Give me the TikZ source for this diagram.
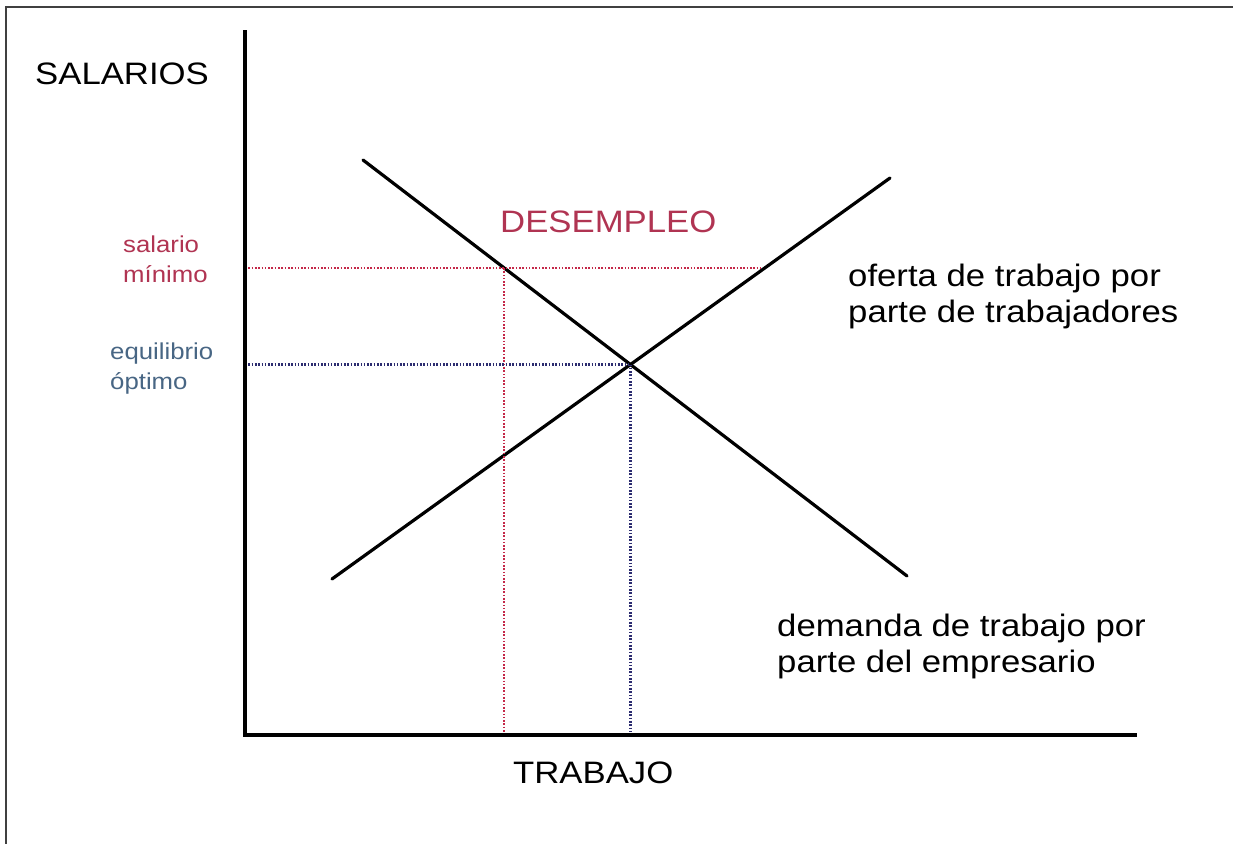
\documentclass[tikz,border=0pt]{standalone}
\usepackage{fontspec}
\setmainfont{Liberation Sans}[FakeStretch=1.12]
\usepackage{tikz}
\usetikzlibrary{positioning}
\usetikzlibrary{intersections}
\definecolor{minred}{RGB}{176,52,82}
\definecolor{eqblue}{RGB}{72,102,132}
\definecolor{dotred}{RGB}{196,40,72}
\definecolor{dotblue}{RGB}{44,44,112}
\tikzset{
    x=1pt, y=1pt,
    every node/.style={ % Sets the properties for each label
        inner sep=0pt,
        anchor=base west, % base = baseline of the last line
        align=left
    },
    biglabel/.style={font=\fontsize{31}{36}\selectfont},
    smalllabel/.style={font=\fontsize{23}{30}\selectfont},
    axis/.style={line width=3.6pt, line cap=rect},
    curve/.style={line width=3.2pt, line cap=round},
    guide/.style={line width=2.2pt, dash pattern=on 1.6pt off 1.7pt} % Dotted helper lines
}

\begin{document}
\begin{tikzpicture}
            \useasboundingbox (0,0) rectangle (1233,844);
            \draw[line width=2pt, black!75] (1233,837) -- (6,837) -- (6,0);

            \coordinate (O) at (245,109);
            \coordinate (ytop) at (245,812);
            \coordinate (xend) at (1135,109);
            \coordinate (d1) at (363,684);
            \coordinate (d2) at (907,268);
            \coordinate (s1) at (332,265);
            \coordinate (s2) at (890,666);
            \coordinate (m1) at (245,576);
            \coordinate (m2) at (762,576);

            \draw[curve, name path=demanda] (d1) -- (d2);
            \draw[curve, name path=oferta] (s1) -- (s2);
            \path[name path=salmin] (m1) -- (m2);
            \path[name intersections={of=demanda and oferta, by=E}];
            \path[name intersections={of=demanda and salmin, by=M}];

            \draw[guide, dotred] (m1) -- (m2);
            \draw[guide, dotred] (M) -- (M |- O);
            \draw[guide, dotblue] (O |- E) -- (E);
            \draw[guide, dotblue] (E) -- (E |- O);

            \draw[axis] (ytop) -- (O) -- (xend);

            \node[biglabel] (salarios) at (35,759) {SALARIOS};
            \node[biglabel] (trabajo) at (513,61) {TRABAJO};
            \node[smalllabel, text=minred] (minimo) at (123,561) {salario\\mínimo};
            \node[smalllabel, text=eqblue] (optimo) at (110,454) {equilibrio\\óptimo};
            \node[biglabel, text=minred] (desempleo) at (500,611) {DESEMPLEO};
            \node[biglabel] (oferta) at (848,521) {oferta de trabajo por\\parte de trabajadores};
            \node[biglabel] (demanda) at (777,172) {demanda de trabajo por\\parte del empresario};

        \end{tikzpicture}
\end{document}
